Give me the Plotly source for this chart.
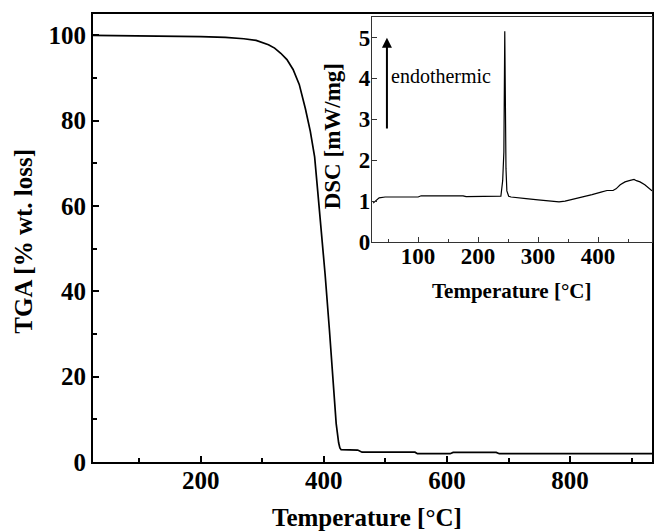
import plotly.graph_objects as go

# Main TGA curve
tga_temp = [25, 100, 150, 200, 240, 270, 290, 310, 320, 330, 340, 350, 360, 370, 378, 385,
            390, 396, 402, 409, 415, 420, 424, 426, 428, 440, 455, 462, 548, 552, 605, 610,
            680, 685, 935]
tga_val = [100, 99.9, 99.8, 99.7, 99.5, 99.2, 98.8, 97.8, 97.0, 95.8, 94.3, 92.0, 88.5, 82.8,
           77.5, 71.5, 63.5, 54, 44, 31, 19, 9, 4.5, 3.3, 2.9, 2.85, 2.8, 2.3, 2.3, 1.95, 1.95,
           2.25, 2.25, 1.95, 1.95]

# Inset DSC curve
dsc_temp = [25, 30, 35, 45, 100, 105, 175, 180, 238, 241, 243, 244.5, 245.5, 246.5, 248, 251,
            255, 265, 280, 300, 320, 335, 345, 360, 375, 390, 405, 415, 425, 430, 437, 445,
            452, 460, 464, 470, 478, 485, 490]
dsc_val = [0.95, 1.02, 1.08, 1.10, 1.10, 1.13, 1.13, 1.11, 1.12, 1.5, 2.2, 5.15, 2.8, 1.8, 1.25,
           1.12, 1.10, 1.08, 1.06, 1.03, 1.0, 0.98, 1.0, 1.05, 1.1, 1.16, 1.22, 1.26, 1.26, 1.3,
           1.4, 1.47, 1.5, 1.53, 1.5, 1.47, 1.4, 1.3, 1.25]

main_xticks = [200, 400, 600, 800]
main_yticks = [0, 20, 40, 60, 80, 100]
inset_xticks = [100, 200, 300, 400]
inset_yticks = [0, 1, 2, 3, 4, 5]

FONT = "Liberation Serif"

fig = go.Figure()
fig.add_trace(go.Scatter(x=tga_temp, y=tga_val, mode="lines",
                         line=dict(color="black", width=1.7), xaxis="x", yaxis="y",
                         showlegend=False, hoverinfo="skip"))
fig.add_trace(go.Scatter(x=dsc_temp, y=dsc_val, mode="lines",
                         line=dict(color="black", width=1.2), xaxis="x2", yaxis="y2",
                         showlegend=False, hoverinfo="skip"))

tickfont = dict(family=FONT, size=25, color="black", weight="bold")
itickfont = dict(family=FONT, size=23, color="black", weight="bold")

fig.update_layout(
    width=654, height=531,
    margin=dict(l=93, r=2, t=14, b=69),
    paper_bgcolor="white", plot_bgcolor="white",
    font=dict(family=FONT, color="black"),
    xaxis=dict(domain=[0, 1], range=[25, 933], tickvals=main_xticks, automargin=False,
               showline=True, linecolor="black", linewidth=2, mirror=True,
               ticks="inside", ticklen=6, tickwidth=1.5, tickcolor="black",
               minor=dict(dtick=100, tick0=0, ticks="inside", ticklen=4, tickwidth=1.5, tickcolor="black"),
               showgrid=False, zeroline=False, tickfont=tickfont, ticklabelstandoff=-5),
    yaxis=dict(domain=[0, 1], range=[0, 105], tickvals=main_yticks, automargin=False,
               showline=True, linecolor="black", linewidth=2, mirror=True,
               ticks="inside", ticklen=6, tickwidth=1.5, tickcolor="black",
               minor=dict(dtick=10, tick0=0, ticks="inside", ticklen=4, tickwidth=1.5, tickcolor="black"),
               showgrid=False, zeroline=False, tickfont=tickfont),
    xaxis2=dict(domain=[0.499, 1.0], anchor="y2", range=[23, 490], tickvals=inset_xticks, automargin=False,
                showline=True, linecolor="#333", linewidth=1.3, mirror=True,
                ticks="inside", ticklen=5, tickwidth=1.2, tickcolor="#333",
                minor=dict(dtick=50, tick0=0, ticks="inside", ticklen=3, tickwidth=1, tickcolor="#333"),
                showgrid=False, zeroline=False, tickfont=itickfont, ticklabelstandoff=-7),
    yaxis2=dict(domain=[0.491, 0.9933], anchor="x2", range=[0, 5.5], tickvals=inset_yticks, automargin=False,
                showline=True, linecolor="#333", linewidth=1.3, mirror=True,
                ticks="inside", ticklen=5, tickwidth=1.2, tickcolor="#333",
                showgrid=False, zeroline=False, tickfont=itickfont, ticklabelstandoff=-4),
    annotations=[
        dict(x=48, y=4.99, ax=48, ay=2.74, xref="x2", yref="y2", axref="x2", ayref="y2",
             showarrow=True, arrowhead=2, arrowsize=1, arrowwidth=2, arrowcolor="black", text=""),
        dict(x=52, y=4.06, xref="x2", yref="y2", text="endothermic", showarrow=False,
             xanchor="left", yanchor="middle", font=dict(family=FONT, size=20, color="black")),
        # main axis titles
        dict(x=0.49, y=-0.123, xref="paper", yref="paper", xanchor="center", yanchor="middle",
             text="<b>Temperature [°C]</b>", showarrow=False, font=dict(family=FONT, size=25)),
        dict(x=-0.125, y=0.492, xref="paper", yref="paper", xanchor="center", yanchor="middle",
             text="<b>TGA [% wt. loss]</b>", textangle=-90, showarrow=False, font=dict(family=FONT, size=25)),
        # inset axis titles
        dict(x=0.7495, y=0.381, xref="paper", yref="paper", xanchor="center", yanchor="middle",
             text="<b>Temperature [°C]</b>", showarrow=False, font=dict(family=FONT, size=21)),
        dict(x=0.429, y=0.7266, xref="paper", yref="paper", xanchor="center", yanchor="middle",
             text="<b>DSC [mW/mg]</b>", textangle=-90, showarrow=False, font=dict(family=FONT, size=23)),
    ],
)

fig.write_html("out.html", config={"displayModeBar": False},
               post_script="document.body.style.margin='0';document.body.style.overflow='hidden';")
